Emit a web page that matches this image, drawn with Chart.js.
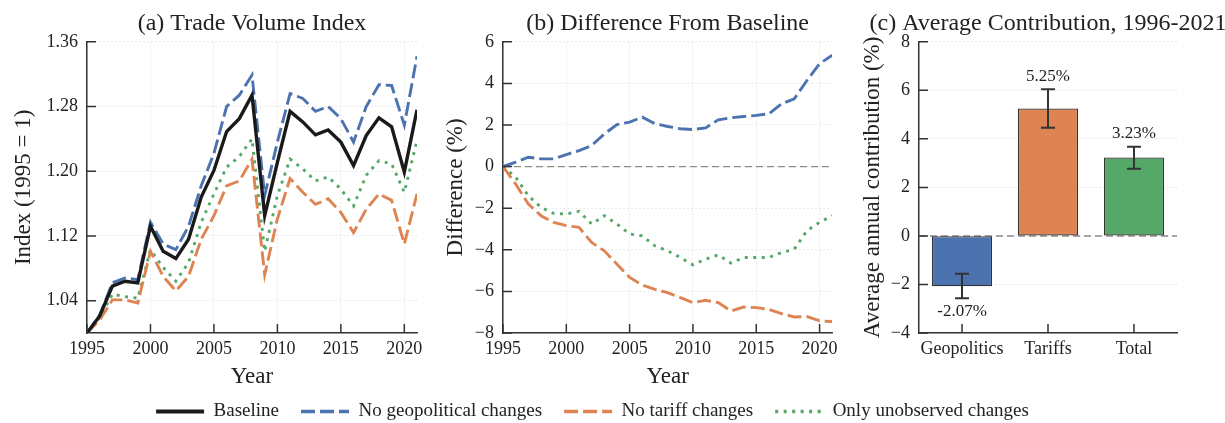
<!DOCTYPE html>
<html>
<head>
<meta charset="utf-8">
<script src="https://cdn.jsdelivr.net/npm/chart.js@4.4.0/dist/chart.umd.min.js"></script>
<style>
  body { margin: 0; background: #fff; }
  #wrap { position: relative; width: 1225px; height: 423px; overflow: hidden; }
  canvas { position: absolute; }
</style>
</head>
<body>
<div id="wrap">
  <canvas id="chartA" width="440" height="395" style="left:0;top:0"></canvas>
  <canvas id="chartB" width="403" height="395" style="left:440px;top:0"></canvas>
  <canvas id="chartC" width="410" height="395" style="left:843px;top:0"></canvas>
  <canvas id="legend" width="1185" height="110" style="left:0;top:380px"></canvas>
</div>
<script>
// ---- data ----
const years = [1995,1996,1997,1998,1999,2000,2001,2002,2003,2004,2005,2006,2007,2008,
               2009,2010,2011,2012,2013,2014,2015,2016,2017,2018,2019,2020,2021];
const yearTicks = [1995, 2000, 2005, 2010, 2015, 2020];

// (a) trade volume index, 1995 = 1
const baseline = [1.000,1.021,1.058,1.064,1.062,1.132,1.101,1.092,1.116,1.168,1.201,1.249,1.265,1.294,
                  1.145,1.211,1.274,1.261,1.245,1.251,1.236,1.207,1.244,1.266,1.255,1.199,1.276];
const noGeo    = [1.000,1.022,1.062,1.068,1.066,1.137,1.110,1.103,1.132,1.182,1.222,1.280,1.294,1.319,
                  1.170,1.236,1.296,1.290,1.274,1.280,1.265,1.236,1.280,1.307,1.306,1.257,1.342];
const noTariff = [1.000,1.016,1.041,1.041,1.037,1.101,1.070,1.052,1.070,1.116,1.145,1.182,1.188,1.215,
                  1.072,1.141,1.191,1.174,1.159,1.166,1.149,1.124,1.153,1.172,1.164,1.110,1.172];
const unobs    = [1.000,1.019,1.048,1.045,1.043,1.103,1.081,1.064,1.087,1.137,1.172,1.205,1.218,1.240,
                  1.101,1.170,1.215,1.203,1.188,1.193,1.178,1.157,1.195,1.213,1.209,1.174,1.238];
const indexTicks = [1.04, 1.12, 1.20, 1.28, 1.36];

// (b) difference from baseline, %
const diffGeo    = [0,0.21,0.45,0.37,0.37,0.58,0.77,1.01,1.57,2.02,2.14,2.38,2.06,1.93,
                    1.82,1.78,1.86,2.25,2.35,2.41,2.46,2.54,3.02,3.26,4.14,4.95,5.35];
const diffTariff = [0,-0.84,-1.80,-2.36,-2.68,-2.84,-2.92,-3.65,-4.05,-4.69,-5.33,-5.69,-5.90,-6.06,
                    -6.30,-6.54,-6.43,-6.54,-6.94,-6.75,-6.78,-6.86,-7.07,-7.23,-7.21,-7.42,-7.45];
const diffUnobs  = [0,-0.51,-1.40,-1.96,-2.25,-2.28,-2.15,-2.76,-2.36,-2.76,-3.24,-3.33,-3.81,-4.05,
                    -4.37,-4.72,-4.45,-4.24,-4.64,-4.37,-4.37,-4.37,-4.13,-3.97,-3.08,-2.68,-2.36];
const diffTicks = [-8, -6, -4, -2, 0, 2, 4, 6];

// (c) average annual contribution, %
const contribCats = ['Geopolitics', 'Tariffs', 'Total'];
const contribMean = [-2.07, 5.25, 3.23];
const contribLow  = [-2.57, 4.46, 2.77];
const contribHigh = [-1.56, 6.04, 3.68];
const contribTicks = [-4, -2, 0, 2, 4, 6, 8];

// ---- styling ----
Chart.defaults.font.family = '"Liberation Serif", "Times New Roman", serif';
Chart.defaults.color = '#222';
Chart.defaults.animation = false;

const BLUE = '#4C72B0', ORANGE = '#DD8452', GREEN = '#55A868', BLACK = '#1a1a1a';
const styleBase   = {label: 'Baseline', borderColor: BLACK, backgroundColor: BLACK, borderWidth: 3.4};
const styleGeo    = {label: 'No geopolitical changes', borderColor: BLUE, backgroundColor: BLUE, borderWidth: 2.9, borderDash: [14, 5]};
const styleTariff = {label: 'No tariff changes', borderColor: ORANGE, backgroundColor: ORANGE, borderWidth: 2.9, borderDash: [14, 5]};
const styleUnobs  = {label: 'Only unobserved changes', borderColor: GREEN, backgroundColor: GREEN, borderWidth: 2.9, borderDash: [3, 5.5]};

const toPoints = vals => vals.map((v, i) => ({x: years[i], y: v}));
const minus = v => String(v).replace('-', '\u2212');
const gridColor = '#dcdcdc';

// small inward tick marks, matplotlib style
const inwardTicks = {
  id: 'inwardTicks',
  afterDatasetsDraw(chart) {
    const {ctx, chartArea: a, scales} = chart;
    ctx.save();
    ctx.strokeStyle = '#333';
    ctx.lineWidth = 1.5;
    ctx.beginPath();
    for (const s of [scales.x, scales.y]) {
      s.ticks.forEach((t, i) => {
        const p = s.getPixelForTick(i);
        if (s.isHorizontal()) { ctx.moveTo(p, a.bottom); ctx.lineTo(p, a.bottom - 9); }
        else { ctx.moveTo(a.left, p); ctx.lineTo(a.left + 9, p); }
      });
    }
    ctx.stroke();
    ctx.restore();
  }
};

const zeroLine = {
  id: 'zeroLine',
  beforeDatasetsDraw(chart) {
    const {ctx, chartArea: a, scales: {y}} = chart;
    const p = y.getPixelForValue(0);
    ctx.save();
    ctx.strokeStyle = '#8c8c8c';
    ctx.lineWidth = 1.4;
    ctx.setLineDash([7, 4]);
    ctx.beginPath();
    ctx.moveTo(a.left, p);
    ctx.lineTo(a.right, p);
    ctx.stroke();
    ctx.restore();
  }
};

const errorBars = {
  id: 'errorBars',
  afterDatasetsDraw(chart) {
    const {ctx, scales: {x, y}} = chart;
    ctx.save();
    ctx.strokeStyle = '#333';
    ctx.lineWidth = 2;
    ctx.fillStyle = '#222';
    ctx.font = '17px "Liberation Serif"';
    ctx.textAlign = 'center';
    ctx.textBaseline = 'middle';
    contribMean.forEach((v, i) => {
      const cx = x.getPixelForValue(i);
      const lo = y.getPixelForValue(contribLow[i]);
      const hi = y.getPixelForValue(contribHigh[i]);
      ctx.beginPath();
      ctx.moveTo(cx, lo); ctx.lineTo(cx, hi);
      ctx.moveTo(cx - 7, lo); ctx.lineTo(cx + 7, lo);
      ctx.moveTo(cx - 7, hi); ctx.lineTo(cx + 7, hi);
      ctx.stroke();
      ctx.fillText(v.toFixed(2) + '%', cx, v >= 0 ? hi - 13 : lo + 13);
    });
    ctx.restore();
  }
};

function yearAxis() {
  return {
    type: 'linear', min: 1995, max: 2021,
    afterBuildTicks: s => { s.ticks = yearTicks.map(v => ({value: v})); },
    afterFit: s => { s.height = 62; },
    grid: {color: gridColor, lineWidth: 0.8, drawTicks: false},
    border: {color: '#333', width: 1.5, dash: [1.5, 2.5]},
    ticks: {font: {size: 18}, padding: 5, maxRotation: 0, callback: v => String(v)},
    title: {display: true, text: 'Year', font: {size: 23}, padding: {top: 0, bottom: 4}}
  };
}

function plotTitle(text, full) {
  return {display: true, text: text, fullSize: !!full, font: {size: 24, weight: 'normal'},
          color: '#222', padding: {top: 9, bottom: 4}};
}

// (a)
new Chart(document.getElementById('chartA'), {
  type: 'line',
  data: {
    datasets: [
      {...styleBase, data: toPoints(baseline)},
      {...styleGeo, data: toPoints(noGeo)},
      {...styleTariff, data: toPoints(noTariff)},
      {...styleUnobs, data: toPoints(unobs)}
    ]
  },
  options: {
    responsive: false,
    layout: {padding: {top: 0, right: 23, bottom: 0, left: 0}},
    elements: {point: {radius: 0}, line: {tension: 0}},
    plugins: {legend: {display: false}, tooltip: {enabled: false}, title: plotTitle('(a) Trade Volume Index')},
    scales: {
      x: yearAxis(),
      y: {
        min: 1.0, max: 1.36,
        afterBuildTicks: s => { s.ticks = indexTicks.map(v => ({value: v})); },
        afterFit: s => { s.width = 87; },
        grid: {color: gridColor, lineWidth: 0.8, drawTicks: false},
        border: {color: '#333', width: 1.5, dash: [1.5, 2.5]},
        ticks: {font: {size: 18}, padding: 9, callback: v => v.toFixed(2)},
        title: {display: true, text: 'Index (1995 = 1)', font: {size: 23}, padding: {top: 10}}
      }
    }
  },
  plugins: [inwardTicks]
});

// (b)
new Chart(document.getElementById('chartB'), {
  type: 'line',
  data: {
    datasets: [
      {...styleGeo, data: toPoints(diffGeo)},
      {...styleTariff, data: toPoints(diffTariff)},
      {...styleUnobs, data: toPoints(diffUnobs)}
    ]
  },
  options: {
    responsive: false,
    layout: {padding: {top: 0, right: 10, bottom: 0, left: 0}},
    elements: {point: {radius: 0}, line: {tension: 0}},
    plugins: {legend: {display: false}, tooltip: {enabled: false}, title: plotTitle('(b) Difference From Baseline')},
    scales: {
      x: yearAxis(),
      y: {
        min: -8, max: 6,
        afterBuildTicks: s => { s.ticks = diffTicks.map(v => ({value: v})); },
        afterFit: s => { s.width = 63; },
        grid: {color: gridColor, lineWidth: 0.8, drawTicks: false},
        border: {color: '#333', width: 1.5, dash: [1.5, 2.5]},
        ticks: {font: {size: 18}, padding: 9, callback: minus},
        title: {display: true, text: 'Difference (%)', font: {size: 23}, padding: {top: 2}}
      }
    }
  },
  plugins: [zeroLine, inwardTicks]
});

// (c) - canvas runs past the page edge so the full-width title centres on the plot;
// an empty right-hand axis holds the plot's right edge in place
new Chart(document.getElementById('chartC'), {
  type: 'bar',
  data: {
    labels: contribCats,
    datasets: [{
      data: contribMean,
      backgroundColor: [BLUE, ORANGE, GREEN],
      borderColor: '#333',
      borderWidth: 1.2,
      borderSkipped: false,
      barPercentage: 0.7,
      categoryPercentage: 1
    }]
  },
  options: {
    responsive: false,
    layout: {padding: 0},
    plugins: {legend: {display: false}, tooltip: {enabled: false}, title: plotTitle('(c) Average Contribution, 1996-2021', true)},
    scales: {
      x: {
        afterFit: s => { s.height = 62; },
        grid: {display: false, drawTicks: false},
        border: {color: '#333', width: 1.5},
        ticks: {font: {size: 18}, padding: 5, maxRotation: 0}
      },
      y: {
        min: -4, max: 8,
        afterBuildTicks: s => { s.ticks = contribTicks.map(v => ({value: v})); },
        afterFit: s => { s.width = 76; },
        grid: {color: gridColor, lineWidth: 0.8, drawTicks: false},
        border: {color: '#333', width: 1.5, dash: [1.5, 2.5]},
        ticks: {font: {size: 18}, padding: 9, callback: minus},
        title: {display: true, text: 'Average annual contribution (%)', font: {size: 23}, padding: {top: 16}}
      },
      spacer: {
        position: 'right',
        afterFit: s => { s.width = 76; },
        grid: {display: false, drawTicks: false},
        border: {display: false},
        ticks: {display: false}
      }
    }
  },
  plugins: [zeroLine, errorBars, inwardTicks]
});

// shared legend along the bottom
new Chart(document.getElementById('legend'), {
  type: 'line',
  data: {
    datasets: [
      {...styleBase, data: []},
      {...styleGeo, data: []},
      {...styleTariff, data: []},
      {...styleUnobs, data: []}
    ]
  },
  options: {
    responsive: false,
    layout: {padding: 0},
    scales: {x: {display: false}, y: {display: false}},
    plugins: {
      tooltip: {enabled: false},
      legend: {
        position: 'top',
        labels: {
          usePointStyle: true, pointStyle: 'line', pointStyleWidth: 48,
          font: {size: 19}, padding: 22, color: '#222',
          generateLabels: chart => chart.data.datasets.map((ds, i) => ({
            text: ds.label, datasetIndex: i, pointStyle: 'line',
            strokeStyle: ds.borderColor, fillStyle: ds.borderColor,
            lineWidth: ds.borderWidth + 0.6, lineDash: ds.borderDash || [],
            fontColor: '#222'
          }))
        }
      }
    }
  }
});
</script>
</body>
</html>
